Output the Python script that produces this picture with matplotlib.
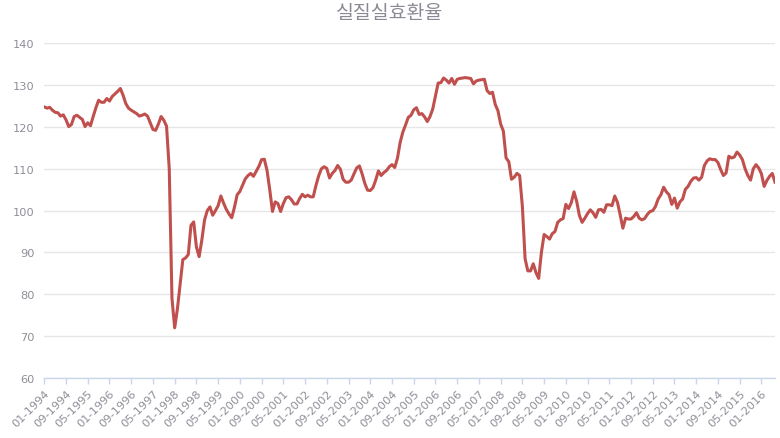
import matplotlib
matplotlib.use("Agg")
import matplotlib.pyplot as plt
import numpy as np

# Monthly real effective exchange rate, 01-1994 .. 06-2016
start_year = 1994
start_month = 1
values = [
    # 1994
    124.8, 124.5, 124.7, 124.0, 123.5, 123.4, 122.6, 122.9, 121.7, 120.1, 120.6, 122.5,
    # 1995
    122.8, 122.3, 121.8, 120.1, 121.0, 120.3, 122.5, 124.6, 126.4, 125.9, 125.9, 126.8,
    # 1996
    126.2, 127.3, 127.9, 128.5, 129.2, 127.6, 125.6, 124.5, 124.0, 123.6, 123.2, 122.6,
    # 1997
    122.8, 123.1, 122.6, 121.0, 119.4, 119.2, 120.7, 122.5, 121.6, 120.2, 110.0, 79.0,
    # 1998
    72.0, 76.5, 82.5, 88.3, 88.7, 89.5, 96.5, 97.3, 91.3, 89.0, 93.0, 97.8,
    # 1999
    100.0, 100.9, 98.9, 100.0, 101.2, 103.5, 101.8, 100.3, 99.2, 98.3, 100.8, 103.8,
    # 2000
    104.6, 106.1, 107.6, 108.4, 108.9, 108.2, 109.4, 110.6, 112.2, 112.3, 109.6, 105.0,
    # 2001
    99.8, 102.1, 101.7, 99.8, 101.7, 103.1, 103.3, 102.6, 101.6, 101.6, 102.9, 103.9,
    # 2002
    103.3, 103.7, 103.3, 103.3, 106.0, 108.3, 110.0, 110.5, 110.1, 107.8, 108.9, 109.6,
    # 2003
    110.8, 109.9, 107.5, 106.8, 106.8, 107.3, 108.8, 110.2, 110.7, 108.8, 106.5, 104.9,
    # 2004
    104.8, 105.5, 107.3, 109.5, 108.4, 109.1, 109.6, 110.5, 111.0, 110.3, 112.5, 116.3,
    # 2005
    118.8, 120.5, 122.3, 122.8, 124.1, 124.6, 123.0, 123.2, 122.4, 121.3, 122.5, 124.3,
    # 2006
    127.4, 130.5, 130.6, 131.7, 131.2, 130.5, 131.6, 130.2, 131.4, 131.6, 131.7, 131.8,
    # 2007
    131.7, 131.6, 130.3, 131.0, 131.2, 131.3, 131.4, 128.7, 128.0, 128.3, 125.4, 123.9,
    # 2008
    120.7, 119.0, 112.6, 111.7, 107.5, 108.0, 108.9, 108.4, 101.0, 88.5, 85.6, 85.6,
    # 2009
    87.3, 85.2, 83.8, 90.0, 94.3, 93.8, 93.2, 94.5, 95.0, 97.2, 97.8, 98.1,
    # 2010
    101.5, 100.5, 101.9, 104.5, 102.2, 98.8, 97.2, 98.2, 99.3, 100.2, 99.5, 98.4,
    # 2011
    100.2, 100.3, 99.6, 101.4, 101.4, 101.2, 103.5, 102.0, 99.0, 95.8, 98.2, 98.0,
    # 2012
    98.0, 98.6, 99.5, 98.2, 97.8, 98.1, 99.1, 99.8, 100.0, 101.0, 102.8, 103.8,
    # 2013
    105.6, 104.5, 103.8, 101.5, 103.0, 100.6, 102.1, 102.8, 105.1, 105.8, 107.0, 107.8,
    # 2014
    107.9, 107.3, 108.0, 110.8, 111.9, 112.4, 112.2, 112.2, 111.5, 109.8, 108.4, 109.0,
    # 2015
    113.0, 112.6, 112.8, 114.0, 113.3, 112.2, 110.0, 108.4, 107.3, 110.0, 111.0, 110.2,
    # 2016
    108.8, 105.8, 107.2, 108.2, 108.9, 106.8,
]

categories = []
for k in range(len(values)):
    m = (start_month - 1 + k) % 12 + 1
    y = start_year + (start_month - 1 + k) // 12
    categories.append(f"{m:02d}-{y}")

title = "실질실효환율"
y_ticks = [60, 70, 80, 90, 100, 110, 120, 130, 140]
label_step = 8

line_color = "#c0504d"
text_gray = "#8e8e98"
grid_color = "#e6e6e6"
axis_color = "#ccd6eb"

fig = plt.figure(figsize=(7.8, 4.39), dpi=100)
ax = fig.add_axes([44.3 / 780, 1 - 379 / 439, (775 - 44.3) / 780, (379 - 44.3) / 439])

x = np.arange(len(values))
ax.plot(x, values, color=line_color, lw=2.2, solid_joinstyle="round", zorder=3)

ax.set_xlim(0, len(values) - 1)
ax.set_ylim(60, 140)
ax.set_yticks(y_ticks)
ax.set_yticklabels([str(v) for v in y_ticks])
ax.grid(axis="y", color=grid_color, lw=1)
ax.set_axisbelow(True)

tick_pos = list(range(0, len(values), label_step))
ax.set_xticks(tick_pos)
ax.set_xticklabels([categories[p] for p in tick_pos], rotation=45, ha="right",
                   va="top", rotation_mode="anchor")

for s in ["top", "right", "left"]:
    ax.spines[s].set_visible(False)
ax.spines["bottom"].set_color(axis_color)
ax.spines["bottom"].set_linewidth(1)

ax.tick_params(axis="y", length=0, pad=7, labelsize=8.2, labelcolor=text_gray)
ax.tick_params(axis="x", length=4, width=1, color=axis_color, pad=3,
               labelsize=8.2, labelcolor=text_gray)

fig.text(0.5, 1 - 13 / 439, title, ha="center", va="center", fontsize=14,
         color="#8a8a94", family=["Noto Sans CJK KR", "DejaVu Sans"])

fig.savefig("out.png", dpi=100)
